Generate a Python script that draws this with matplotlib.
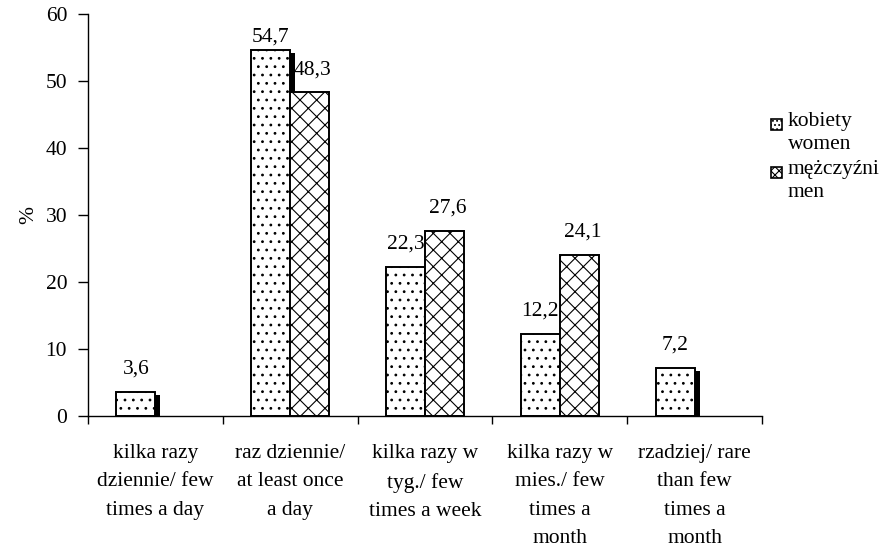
import matplotlib.pyplot as plt
import matplotlib.patches as mpatches
import numpy as np

plt.rcParams['font.family'] = ['Liberation Serif', 'DejaVu Serif']
plt.rcParams['hatch.linewidth'] = 0.8

# frequency categories (PL / EN)
kategorie = ['kilka razy\ndziennie/ few\ntimes a day',
             'raz dziennie/\nat least once\na day',
             'kilka razy w\ntyg./ few\ntimes a week',
             'kilka razy w\nmies./ few\ntimes a\nmonth',
             'rzadziej/ rare\nthan few\ntimes a\nmonth']
kobiety = [3.6, 54.7, 22.3, 12.2, 7.2]
mezczyzni = [0, 48.3, 27.6, 24.1, 0]
legenda = ['kobiety\nwomen', 'mężczyźni\nmen']

FS = 15.5

fig = plt.figure(figsize=(8.87, 5.55), dpi=100)
ax = fig.add_axes([88/887, 1-416/555, 674/887, 402/555])

x = np.arange(len(kategorie))
w = 0.29
px = 1/134.8          # one pixel in x data units
py = 60/402           # one pixel in y data units

# black shadow behind the women bars
ax.bar(x - w/2 + 5*px, np.array(kobiety) - 3*py, w, bottom=0,
       color='black', zorder=1)
ax.bar(x - w/2, kobiety, w, facecolor='white', edgecolor='black',
       hatch='..', linewidth=1.4, zorder=2)
mb = [v if v > 0 else np.nan for v in mezczyzni]
ax.bar(x + w/2, mb, w, facecolor='white', edgecolor='black',
       hatch='xx', linewidth=1.4, zorder=2)

for i, v in enumerate(kobiety):
    ax.text(x[i] - w/2, min(v + 3.4, 56.6), f'{v:.1f}'.replace('.', ','),
            ha='center', va='center', fontsize=FS)
for i, v in enumerate(mezczyzni):
    if v > 0:
        ax.text(x[i] + w/2 + 3*px, v + 3.4, f'{v:.1f}'.replace('.', ','),
                ha='center', va='center', fontsize=FS)

ax.set_xlim(-0.5, len(kategorie) - 0.5)
ax.set_ylim(0, 60)
ax.set_yticks(range(0, 61, 10))
ax.set_xticks(x)
ax.set_xticklabels(kategorie, fontsize=FS, linespacing=1.68)
ax.set_xticks(np.arange(-0.5, len(kategorie)), minor=True)
ax.tick_params(axis='x', which='major', length=0, pad=20)
ax.tick_params(axis='x', which='minor', length=6, width=1, direction='out')
ax.tick_params(axis='y', length=7, width=1, direction='out', labelsize=FS, pad=8)
ax.set_ylabel('%', fontsize=FS, labelpad=5)
for s in ['top', 'right']:
    ax.spines[s].set_visible(False)
for s in ['left', 'bottom']:
    ax.spines[s].set_linewidth(1)

# legend drawn by hand so the swatch sits on the first line
for i, (lab, h) in enumerate(zip(legenda, ['....', 'xxxx'])):
    yy = 1 - (124 + i*48)/555
    fig.patches.append(mpatches.Rectangle((771/887, yy - 6/555), 11/887, 11/555,
                                          transform=fig.transFigure, facecolor='white',
                                          edgecolor='black', hatch=h, linewidth=1.2))
    fig.text(788/887, yy + 12/555, lab, fontsize=FS, va='top', ha='left',
             linespacing=1.3, transform=fig.transFigure)

fig.savefig('out.png', dpi=100)
